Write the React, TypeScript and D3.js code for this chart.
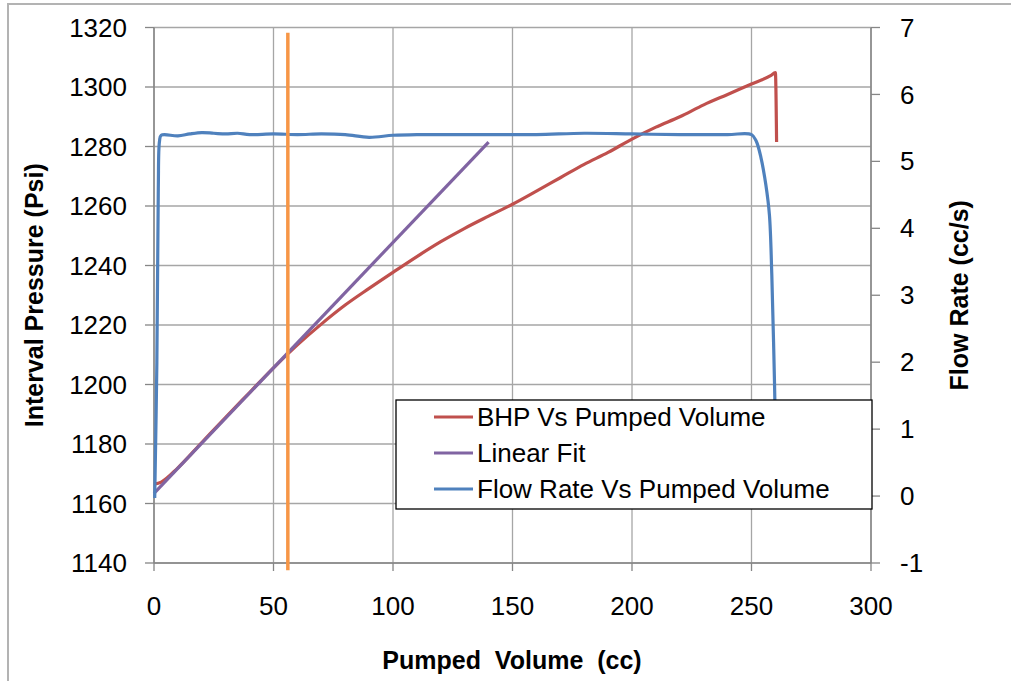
import React from "react";
import * as d3 from "d3";

const xTicks = [0, 50, 100, 150, 200, 250, 300];
const leftTicks = [1140, 1160, 1180, 1200, 1220, 1240, 1260, 1280, 1300, 1320];
const rightTicks = [-1, 0, 1, 2, 3, 4, 5, 6, 7];

const bhpX = [0, 3, 10, 20, 30, 40, 50, 60, 70, 80, 90, 100, 110, 120, 130, 140, 150, 160, 170, 180, 190, 200, 210, 220, 230, 240, 250, 258, 260, 260.5];
const bhpY = [1166.5, 1167.2, 1172, 1180.5, 1189, 1197.3, 1205.6, 1213.3, 1220.3, 1226.7, 1232.3, 1237.7, 1243, 1248, 1252.5, 1256.6, 1260.6, 1265, 1269.5, 1274, 1278, 1282.5, 1286.5, 1290, 1294, 1297.5, 1301, 1303.8, 1304.8, 1281.5];

const fitX = [0, 140];
const fitY = [1163.4, 1281.5];

const flowX = [0.3, 1.2, 1.8, 2.3, 3, 10, 15, 20, 25, 30, 35, 40, 50, 60, 70, 80, 90, 100, 110, 120, 140, 160, 180, 200, 220, 240, 250, 252, 254, 256, 257.5, 258.5, 259.3, 260, 260.3];
const flowY = [-0.03, 2.0, 4.6, 5.3, 5.39, 5.38, 5.41, 5.43, 5.42, 5.41, 5.42, 5.4, 5.41, 5.4, 5.41, 5.4, 5.36, 5.39, 5.4, 5.4, 5.4, 5.4, 5.42, 5.41, 5.4, 5.4, 5.4, 5.3, 5.05, 4.65, 4.2, 3.3, 2.2, 1.0, 0];

const markerX = [56, 56];
const markerY = [1318.2, 1137.6];

const legendItems = [
  { label: "BHP Vs Pumped Volume", color: "#c0504d" },
  { label: "Linear Fit", color: "#8064a2" },
  { label: "Flow Rate Vs Pumped Volume", color: "#4f81bd" },
];

const FONT = "'Liberation Sans', Arial, sans-serif";

export default function App() {
  const x = d3.scaleLinear().domain([0, 300]).range([154, 871]);
  const yL = d3.scaleLinear().domain([1140, 1320]).range([563, 27.5]);
  const yR = d3.scaleLinear().domain([-1, 7]).range([563, 27.5]);

  const lineL = (xs: number[], ys: number[]) =>
    d3.line<number>().x((_, i) => x(xs[i])).y((_, i) => yL(ys[i])).curve(d3.curveMonotoneX)(xs) || "";
  const lineLin = (xs: number[], ys: number[]) =>
    d3.line<number>().x((_, i) => x(xs[i])).y((_, i) => yL(ys[i]))(xs) || "";
  const lineR = (xs: number[], ys: number[]) =>
    d3.line<number>().x((_, i) => x(xs[i])).y((_, i) => yR(ys[i])).curve(d3.curveCatmullRom)(xs) || "";

  const gridColor = "#a6a6a6";
  const axisColor = "#868686";

  return (
    <svg width={1011} height={681} style={{ position: "absolute", left: 0, top: 0, background: "#fff" }} fontFamily={FONT}>
      <rect x={8} y={4} width={1100} height={800} fill="#fff" stroke="#b3b3b3" strokeWidth={2} />
      {leftTicks.map((t) => (
        <line key={"h" + t} x1={x(0)} x2={x(300)} y1={yL(t)} y2={yL(t)} stroke={gridColor} strokeWidth={1.3} />
      ))}
      {xTicks.map((t) => (
        <line key={"v" + t} x1={x(t)} x2={x(t)} y1={yL(1320)} y2={yL(1140)} stroke={gridColor} strokeWidth={1.3} />
      ))}
      <line x1={x(0)} x2={x(0)} y1={yL(1320)} y2={yL(1140)} stroke={axisColor} strokeWidth={1.5} />
      <line x1={x(300)} x2={x(300)} y1={yL(1320)} y2={yL(1140)} stroke={axisColor} strokeWidth={1.5} />
      <line x1={x(0)} x2={x(300)} y1={yL(1140)} y2={yL(1140)} stroke={axisColor} strokeWidth={1.5} />
      {leftTicks.map((t) => (
        <g key={"lt" + t}>
          <line x1={x(0) - 9} x2={x(0)} y1={yL(t)} y2={yL(t)} stroke={axisColor} strokeWidth={1.3} />
          <text x={127} y={yL(t)} dy="0.35em" textAnchor="end" fontSize={26} fill="#000">{t}</text>
        </g>
      ))}
      {rightTicks.map((t) => (
        <g key={"rt" + t}>
          <line x1={x(300)} x2={x(300) + 9} y1={yR(t)} y2={yR(t)} stroke={axisColor} strokeWidth={1.3} />
          <text x={900} y={yR(t)} dy="0.35em" textAnchor="start" fontSize={26} fill="#000">{t}</text>
        </g>
      ))}
      {xTicks.map((t) => (
        <g key={"xt" + t}>
          <line x1={x(t)} x2={x(t)} y1={yL(1140)} y2={yL(1140) + 8} stroke={axisColor} strokeWidth={1.3} />
          <text x={x(t)} y={606} dy="0.35em" textAnchor="middle" fontSize={26} fill="#000">{t}</text>
        </g>
      ))}
      <text transform={`translate(43,${(27.5 + 563) / 2}) rotate(-90)`} textAnchor="middle" fontSize={25} fontWeight="bold" fill="#000">Interval Pressure (Psi)</text>
      <text transform={`translate(968,${(27.5 + 563) / 2}) rotate(-90)`} textAnchor="middle" fontSize={25} fontWeight="bold" fill="#000">Flow Rate (cc/s)</text>
      <text x={512} y={669} textAnchor="middle" fontSize={25} fontWeight="bold" fill="#000" style={{ whiteSpace: "pre" }}>{"Pumped  Volume  (cc)"}</text>
      <path d={lineL(bhpX, bhpY)} fill="none" stroke="#c0504d" strokeWidth={3.2} strokeLinejoin="round" />
      <path d={lineLin(fitX, fitY)} fill="none" stroke="#8064a2" strokeWidth={3.2} />
      <path d={lineR(flowX, flowY)} fill="none" stroke="#4f81bd" strokeWidth={3.2} strokeLinejoin="round" />
      <path d={lineLin(markerX, markerY)} fill="none" stroke="#f79646" strokeWidth={3.5} />
      <rect x={396} y={400} width={476} height={109} fill="#fff" stroke="#000" strokeWidth={1.3} />
      {legendItems.map((it, i) => (
        <g key={it.label}>
          <line x1={434} x2={473} y1={417 + i * 36} y2={417 + i * 36} stroke={it.color} strokeWidth={3.2} />
          <text x={477} y={417 + i * 36} dy="0.35em" fontSize={26} fill="#000">{it.label}</text>
        </g>
      ))}
    </svg>
  );
}
